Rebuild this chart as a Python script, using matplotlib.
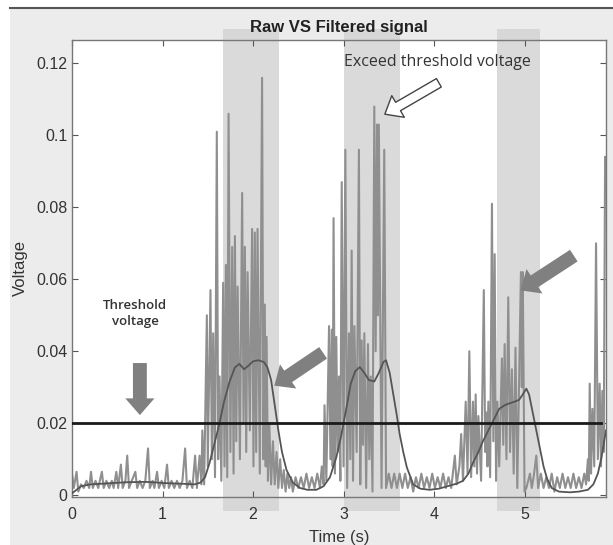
import matplotlib
matplotlib.use("Agg")
import matplotlib.pyplot as plt
from matplotlib.patches import Rectangle
from matplotlib.lines import Line2D

# raw signal (time s, voltage V)
raw_t = [0.00, 0.02, 0.05, 0.07, 0.10, 0.13, 0.16, 0.19, 0.21, 0.23, 0.26, 0.29,
         0.33, 0.35, 0.38, 0.41, 0.44, 0.46, 0.49, 0.51, 0.54, 0.56, 0.59, 0.61,
         0.63, 0.66, 0.70, 0.72, 0.75, 0.78, 0.81, 0.84, 0.86, 0.89, 0.91, 0.94,
         0.96, 0.99, 1.02, 1.05, 1.07, 1.10, 1.13, 1.16, 1.19, 1.22, 1.25, 1.27,
         1.30, 1.33, 1.36, 1.38, 1.41, 1.43, 1.44, 1.46,
         1.49, 1.50, 1.53, 1.545, 1.56, 1.58, 1.60, 1.615, 1.63, 1.65, 1.67, 1.685,
         1.70, 1.715, 1.73, 1.75, 1.77, 1.785, 1.80, 1.815, 1.83, 1.855, 1.88, 1.895,
         1.91, 1.925, 1.94, 1.965, 1.99, 2.005, 2.02, 2.035, 2.05, 2.075, 2.10, 2.115,
         2.13, 2.14, 2.15, 2.165, 2.18, 2.20, 2.22, 2.24, 2.26, 2.28, 2.30, 2.32,
         2.34, 2.36, 2.38, 2.40, 2.42, 2.44,
         2.47, 2.50, 2.53, 2.56, 2.59, 2.62, 2.65, 2.68, 2.71, 2.74, 2.76, 2.78,
         2.79, 2.81, 2.84, 2.855, 2.87, 2.88, 2.89, 2.905, 2.92, 2.935, 2.95, 2.965,
         2.98, 3.00, 3.02, 3.04, 3.06, 3.075, 3.09, 3.105, 3.12, 3.145, 3.17, 3.185,
         3.20, 3.215, 3.23, 3.25, 3.27, 3.285, 3.30, 3.32, 3.34, 3.355, 3.37, 3.38,
         3.39, 3.42, 3.45, 3.47, 3.50,
         3.53, 3.56, 3.59, 3.62, 3.65, 3.68, 3.71, 3.74, 3.77, 3.80, 3.83, 3.86,
         3.89, 3.92, 3.95, 3.98, 4.01, 4.04, 4.07, 4.10, 4.13, 4.16, 4.19,
         4.23, 4.25, 4.28, 4.30, 4.32, 4.35, 4.37, 4.39, 4.41, 4.43, 4.445, 4.46,
         4.475, 4.49, 4.52, 4.55, 4.565, 4.58, 4.59, 4.60, 4.62, 4.64, 4.655, 4.67,
         4.685, 4.70, 4.72, 4.75, 4.765, 4.78, 4.80, 4.82, 4.84, 4.86, 4.88, 4.90,
         4.92, 4.96, 4.97, 4.98, 5.00, 5.02, 5.06, 5.08, 5.10, 5.13, 5.15,
         5.18, 5.21, 5.24, 5.27, 5.30, 5.33, 5.36, 5.39, 5.42, 5.45, 5.48, 5.51,
         5.54, 5.57, 5.60, 5.63, 5.66, 5.68, 5.70, 5.71, 5.72, 5.735, 5.75, 5.77,
         5.79, 5.81, 5.83, 5.845, 5.86, 5.875, 5.89]
raw_v = [0.006, 0.002, 0.0065, 0.001, 0.003, 0.002, 0.004, 0.002, 0.0065, 0.002, 0.004, 0.002,
         0.0065, 0.002, 0.004, 0.002, 0.004, 0.002, 0.0065, 0.002, 0.0085, 0.002, 0.004, 0.011,
         0.002, 0.004, 0.0065, 0.002, 0.004, 0.002, 0.004, 0.013, 0.002, 0.004, 0.002, 0.0065,
         0.002, 0.004, 0.002, 0.0085, 0.002, 0.004, 0.002, 0.004, 0.002, 0.004, 0.013, 0.002,
         0.004, 0.002, 0.011, 0.002, 0.011, 0.003, 0.018, 0.003,
         0.050, 0.008, 0.057, 0.010, 0.045, 0.005, 0.101, 0.010, 0.033, 0.004, 0.059, 0.008,
         0.064, 0.005, 0.106, 0.012, 0.069, 0.006, 0.072, 0.015, 0.058, 0.010, 0.084, 0.020,
         0.069, 0.012, 0.062, 0.018, 0.074, 0.008, 0.073, 0.012, 0.074, 0.006, 0.116, 0.010,
         0.053, 0.008, 0.044, 0.004, 0.020, 0.003, 0.015, 0.003, 0.012, 0.002, 0.010, 0.002,
         0.007, 0.001, 0.006, 0.002, 0.005, 0.001,
         0.005, 0.002, 0.005, 0.002, 0.006, 0.002, 0.005, 0.002, 0.006, 0.002, 0.008, 0.003,
         0.025, 0.004, 0.047, 0.010, 0.046, 0.008, 0.077, 0.006, 0.044, 0.012, 0.033, 0.004,
         0.087, 0.008, 0.096, 0.002, 0.045, 0.010, 0.068, 0.004, 0.047, 0.012, 0.096, 0.003,
         0.043, 0.014, 0.045, 0.002, 0.042, 0.010, 0.033, 0.001, 0.108, 0.040, 0.103, 0.050,
         0.103, 0.002, 0.096, 0.002, 0.006,
         0.002, 0.006, 0.002, 0.006, 0.002, 0.006, 0.002, 0.005, 0.001, 0.005, 0.002, 0.006,
         0.002, 0.005, 0.002, 0.006, 0.002, 0.005, 0.002, 0.006, 0.002, 0.005, 0.002,
         0.011, 0.003, 0.008, 0.017, 0.004, 0.026, 0.006, 0.040, 0.005, 0.026, 0.008, 0.028,
         0.006, 0.022, 0.004, 0.057, 0.012, 0.023, 0.008, 0.026, 0.005, 0.081, 0.015, 0.067,
         0.004, 0.026, 0.008, 0.038, 0.014, 0.042, 0.010, 0.055, 0.012, 0.035, 0.006, 0.041,
         0.002, 0.062, 0.030, 0.062, 0.001, 0.002, 0.006, 0.002, 0.005, 0.011, 0.002,
         0.006, 0.002, 0.005, 0.002, 0.006, 0.001, 0.005, 0.002, 0.006, 0.002, 0.005, 0.002,
         0.006, 0.002, 0.005, 0.002, 0.006, 0.003, 0.010, 0.004, 0.031, 0.006, 0.024, 0.008,
         0.070, 0.010, 0.031, 0.008, 0.029, 0.012, 0.094]

# filtered (smoothed) signal
filt_t = [0.00, 0.05, 0.10, 0.20, 0.40, 0.60, 0.80, 0.90, 1.00, 1.20, 1.35, 1.42,
          1.47, 1.52, 1.57, 1.63, 1.68, 1.74, 1.80, 1.85, 1.90, 1.95, 2.00, 2.06,
          2.12, 2.16, 2.20, 2.24, 2.28, 2.32, 2.37, 2.44, 2.52, 2.60, 2.70, 2.78,
          2.85, 2.92, 2.97, 3.03, 3.08, 3.13, 3.18, 3.23, 3.28, 3.34, 3.39, 3.44,
          3.47, 3.51, 3.55, 3.59, 3.62, 3.66, 3.70, 3.77, 3.85, 3.95, 4.05, 4.15,
          4.25, 4.32, 4.38, 4.43, 4.49, 4.54, 4.60, 4.65, 4.72, 4.78, 4.83, 4.89,
          4.94, 4.98, 5.02, 5.05, 5.09, 5.13, 5.17, 5.21, 5.25, 5.30, 5.38, 5.50,
          5.60, 5.70, 5.76, 5.81, 5.85, 5.90]
filt_v = [0.0005, 0.0015, 0.0025, 0.003, 0.0033, 0.0036, 0.0037, 0.0036, 0.0034, 0.0032, 0.003, 0.0035,
          0.005, 0.009, 0.014, 0.020, 0.026, 0.0315, 0.0355, 0.0365, 0.035, 0.036, 0.0372, 0.0375,
          0.037, 0.0355, 0.032, 0.025, 0.018, 0.012, 0.007, 0.0035, 0.002, 0.0015, 0.0015, 0.0025,
          0.005, 0.0105, 0.016, 0.024, 0.031, 0.0345, 0.0356, 0.034, 0.032, 0.0316, 0.034, 0.037,
          0.0375, 0.034, 0.028, 0.022, 0.017, 0.012, 0.0077, 0.003, 0.0018, 0.0015, 0.0018, 0.0025,
          0.0032, 0.004, 0.006, 0.009, 0.012, 0.015, 0.018, 0.0205, 0.024, 0.025, 0.0255, 0.026,
          0.0265, 0.028, 0.0296, 0.028, 0.023, 0.018, 0.013, 0.008, 0.0045, 0.002, 0.001, 0.0008,
          0.001, 0.0015, 0.003, 0.006, 0.0105, 0.018]

threshold = 0.02
bands = [(1.67, 2.29), (3.00, 3.62), (4.70, 5.17)]

fig = plt.figure(figsize=(6.13, 5.45), dpi=100, facecolor="white")
fig.patches.append(Rectangle((10 / 613, 0), 1, 537 / 545, transform=fig.transFigure,
                             facecolor="#ececec", edgecolor="none", zorder=-10))
fig.lines.append(Line2D([10 / 613, 1], [537 / 545, 537 / 545], transform=fig.transFigure,
                        color="#555555", lw=1.5))

ax = fig.add_axes([72 / 613, 48 / 545, 534 / 613, 457 / 545])
ax.set_facecolor("white")

for lo, hi in bands:
    ax.axvspan(lo, hi, ymin=-0.03, ymax=1.025, color="#d4d4d4", alpha=0.85,
               lw=0, clip_on=False, zorder=0)

ax.plot(raw_t, raw_v, color="#8f8f8f", lw=1.5, zorder=2)
ax.plot(filt_t, filt_v, color="#555555", lw=1.3, zorder=3)
ax.axhline(threshold, xmin=0, xmax=0.99, color="#1a1a1a", lw=2, zorder=4)

ax.set_xlim(0, 5.9)
ax.set_ylim(-0.0005, 0.1265)
ax.set_xticks([0, 1, 2, 3, 4, 5])
ax.set_yticks([0, 0.02, 0.04, 0.06, 0.08, 0.1, 0.12])
ax.set_yticklabels(["0", "0.02", "0.04", "0.06", "0.08", "0.1", "0.12"])
ax.tick_params(direction="in", top=True, right=True, length=4, width=0.8,
               colors="#555555", labelcolor="#333333", labelsize=11.5)
ax.tick_params(axis="x", pad=7)
for lab in ax.get_xticklabels() + ax.get_yticklabels():
    lab.set_family("Liberation Sans")
for sp in ax.spines.values():
    sp.set_color("#777777")
    sp.set_linewidth(1.0)

ax.set_title("Raw VS Filtered signal", fontsize=12, fontweight="bold",
             family="Liberation Sans", color="#222222", pad=6)
ax.set_xlabel("Time (s)", fontsize=12, family="Liberation Sans", color="#333333", labelpad=6)
ax.set_ylabel("Voltage", fontsize=12, family="Liberation Sans", color="#333333", labelpad=6)

# annotations
ax.text(0.70, 0.0505, "Threshold\nvoltage", ha="center", va="center", fontsize=9.5,
        family="Open Sans", fontweight="semibold", color="#333333", linespacing=1.3)
gray_arrow = dict(arrowstyle="simple,head_width=2.1,head_length=1.2,tail_width=1.0",
                  fc="#808080", ec="none")
ax.annotate("", xy=(0.75, 0.0215), xytext=(0.75, 0.0375), arrowprops=gray_arrow)
ax.annotate("", xy=(2.21, 0.030), xytext=(2.80, 0.040), arrowprops=gray_arrow)
ax.annotate("", xy=(4.93, 0.0565), xytext=(5.57, 0.067), arrowprops=gray_arrow)

ax.text(3.01, 0.1205, "Exceed threshold voltage", ha="left", va="center", fontsize=11.5,
        family="Open Sans", color="#333333")
ax.annotate("", xy=(3.43, 0.1055), xytext=(4.08, 0.115),
            arrowprops=dict(arrowstyle="simple,head_width=1.8,head_length=1.1,tail_width=0.7",
                            fc="white", ec="#444444", lw=1.0))

fig.savefig("out.png", dpi=100, facecolor=fig.get_facecolor())
